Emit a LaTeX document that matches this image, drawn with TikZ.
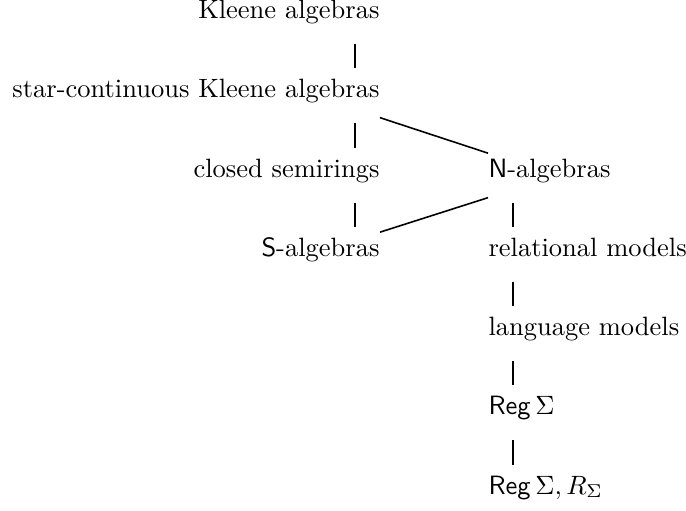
\documentclass[tikz,border=0pt]{standalone}
\usepackage{amsmath}
\usepackage{amssymb}
\begin{document}
\begin{tikzpicture}[x=0.3775pt,y=-0.3775pt,
	class/.style={inner xsep=0pt,inner ysep=2pt,text height=6.8pt,text depth=5.6pt},
	lcol/.style={class,anchor=base east},
	rcol/.style={class,anchor=base west},
	link/.style={line width=0.6pt,shorten <=2pt,shorten >=2pt},
	diag/.style={line width=0.6pt}]
	\useasboundingbox (0,0) rectangle (686,510);
	% left column
	\node[lcol] (kleene) at (380,18) {Kleene algebras};
	\node[lcol] (starcont) at (380,97) {star-continuous Kleene algebras};
	\node[lcol] (closedsr) at (380,177) {closed semirings};
	\node[lcol] (salg) at (380,256) {$\mathsf{S}$-algebras};
	% right column
	\node[rcol] (nalg) at (488,177) {$\mathsf{N}$-algebras};
	\node[rcol] (relmod) at (488,256) {relational models};
	\node[rcol] (langmod) at (488,335) {language models};
	\node[rcol] (reg) at (488,414) {$\mathsf{Reg}\,\Sigma$};
	\node[rcol] (regr) at (488,494) {$\mathsf{Reg}\,\Sigma, R_\Sigma$};
	% vertical links
	\draw[link] ([xshift=-9.4pt]kleene.south east) -- ([xshift=-9.4pt]starcont.north east);
	\draw[link] ([xshift=-9.4pt]starcont.south east) -- ([xshift=-9.4pt]closedsr.north east);
	\draw[link] ([xshift=-9.4pt]closedsr.south east) -- ([xshift=-9.4pt]salg.north east);
	\draw[link] ([xshift=9.4pt]nalg.south west) -- ([xshift=9.4pt]relmod.north west);
	\draw[link] ([xshift=9.4pt]relmod.south west) -- ([xshift=9.4pt]langmod.north west);
	\draw[link] ([xshift=9.4pt]langmod.south west) -- ([xshift=9.4pt]reg.north west);
	\draw[link] ([xshift=9.4pt]reg.south west) -- ([xshift=9.4pt]regr.north west);
	% diagonal links
	\draw[diag] (starcont.south east) -- (nalg.north west);
	\draw[diag] (nalg.south west) -- (salg.north east);
\end{tikzpicture}
\end{document}
